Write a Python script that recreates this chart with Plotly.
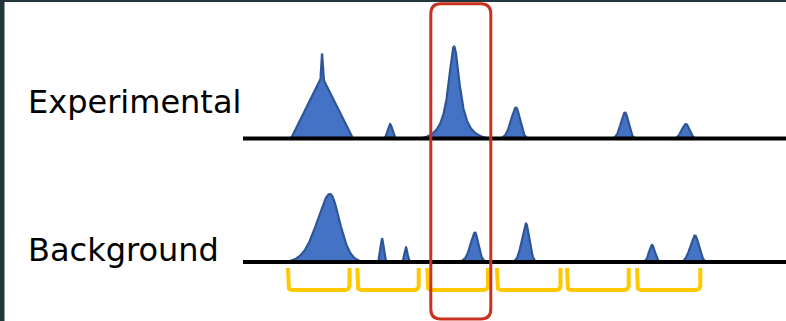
import numpy as np
import plotly.graph_objects as go

# ---------------- data ----------------
# Experimental track peaks: position, height, left/right half-width, Lorentzian fraction, profile kind
EXP_CENTER = [322, 322, 390, 454, 516, 625, 686]
EXP_HEIGHT = [62, 23, 14.5, 92, 31, 26, 14.5]
EXP_HW_LEFT = [31, 0.8, 2.7, 6.8, 6.0, 5.0, 5.0]
EXP_HW_RIGHT = [31, 0.8, 2.7, 7.0, 4.7, 4.2, 4.2]
EXP_ETA = [0, 0, 0, 1.0, 0.3, 0.2, 0.1]
EXP_KIND = ["tri", "pv", "pv", "pv", "pv", "pv", "pv"]

# Background track peaks
BG_CENTER = [330, 382, 406, 475, 526, 652, 695]
BG_HEIGHT = [68, 23.5, 14.5, 29.5, 38.5, 17, 26.5]
BG_HW_LEFT = [15.7, 2.0, 1.8, 5.5, 5.0, 3.5, 5.7]
BG_HW_RIGHT = [11.7, 2.0, 1.8, 4.0, 4.0, 3.5, 4.7]
BG_ETA = [0.35, 0, 0, 0.45, 0.3, 0.2, 0.2]
BG_KIND = ["pv"] * 7

# windows (yellow brackets) and highlighted region (red box)
WINDOW_START = [288, 357.3, 427.3, 497, 567, 637]
WINDOW_END = [349.5, 418.7, 488, 560.5, 628.7, 700.3]
HIGHLIGHT_START = 430.8
HIGHLIGHT_END = 490.8

TRACK_LABELS = ["Experimental", "Background"]

# ---------------- layout constants ----------------
W, H = 786, 321
TRACK_BASE = [182.5, 59]          # baseline level of each track
TRACK_X0, TRACK_X1 = 243, 786
CUT = 0.04
BLUE_FILL = "#4472C4"
BLUE_LINE = "#2F5597"
YELLOW = "#FFC800"
RED = "#C8321E"
FRAME = "#22343C"


def profile(xg, c, h, wl, wr, eta, kind):
    d = xg - c
    w = np.where(d < 0, wl, wr)
    u = d / w
    if kind == "tri":
        f = np.clip(1 - np.abs(u), 0, None)
    else:
        f = (1 - eta) * np.exp(-np.log(2) * u ** 2) + eta / (1 + u ** 2)
        f = np.clip((f - CUT) / (1 - CUT), 0, None)
    return h * f


def track_trace(base, centers, heights, wl, wr, eta, kind):
    xg = np.arange(TRACK_X0, TRACK_X1 + 0.001, 0.2)
    sig = np.zeros_like(xg)
    for i in range(len(centers)):
        sig += profile(xg, centers[i], heights[i], wl[i], wr[i], eta[i], kind[i])
    pos = sig > 1e-6
    xs, ys = [], []
    i = 0
    n = len(xg)
    while i < n:
        if pos[i]:
            j = i
            while j + 1 < n and pos[j + 1]:
                j += 1
            a, b = max(i - 1, 0), min(j + 1, n - 1)
            xs += list(xg[a:b + 1]) + [None]
            ys += list(base + sig[a:b + 1]) + [None]
            i = j + 1
        else:
            i += 1
    return go.Scatter(x=xs, y=ys, mode="lines", fill="toself",
                      fillcolor=BLUE_FILL, line=dict(color=BLUE_LINE, width=2.2),
                      hoverinfo="skip", showlegend=False)


fig = go.Figure()
fig.add_trace(track_trace(TRACK_BASE[0], EXP_CENTER, EXP_HEIGHT, EXP_HW_LEFT,
                          EXP_HW_RIGHT, EXP_ETA, EXP_KIND))
fig.add_trace(track_trace(TRACK_BASE[1], BG_CENTER, BG_HEIGHT, BG_HW_LEFT,
                          BG_HW_RIGHT, BG_ETA, BG_KIND))

# baselines
for b in TRACK_BASE:
    fig.add_trace(go.Scatter(x=[TRACK_X0, TRACK_X1], y=[b, b], mode="lines",
                             line=dict(color="black", width=4),
                             hoverinfo="skip", showlegend=False))

# brackets
BR_TOP, BR_BOT, BR_R = 53, 31, 4
bx, by = [], []
ang = np.linspace(0, np.pi / 2, 8)
for x0, x1 in zip(WINDOW_START, WINDOW_END):
    pts_x = [x0]
    pts_y = [BR_TOP]
    pts_x += list(x0 + BR_R - BR_R * np.cos(ang))
    pts_y += list(BR_BOT + BR_R - BR_R * np.sin(ang))
    pts_x += list(x1 - BR_R + BR_R * np.sin(ang))
    pts_y += list(BR_BOT + BR_R * (1 - np.cos(ang)))
    pts_x += [x1]
    pts_y += [BR_TOP]
    bx += pts_x + [None]
    by += pts_y + [None]
fig.add_trace(go.Scatter(x=bx, y=by, mode="lines",
                         line=dict(color=YELLOW, width=4),
                         hoverinfo="skip", showlegend=False))

# red highlight box (rounded)
RB_TOP, RB_BOT, RB_R = 317.3, 2, 10
x0, x1 = HIGHLIGHT_START, HIGHLIGHT_END
path = (f"M {x0},{RB_TOP - RB_R} L {x0},{RB_BOT + RB_R} Q {x0},{RB_BOT} {x0 + RB_R},{RB_BOT} "
        f"L {x1 - RB_R},{RB_BOT} Q {x1},{RB_BOT} {x1},{RB_BOT + RB_R} "
        f"L {x1},{RB_TOP - RB_R} Q {x1},{RB_TOP} {x1 - RB_R},{RB_TOP} "
        f"L {x0 + RB_R},{RB_TOP} Q {x0},{RB_TOP} {x0},{RB_TOP - RB_R} Z")
fig.add_shape(type="path", path=path, xref="x", yref="y",
              line=dict(color=RED, width=3), fillcolor="rgba(0,0,0,0)", layer="above")

# dark frame edges
fig.add_shape(type="rect", xref="x", yref="y", x0=0, x1=4.5, y0=0, y1=H,
              fillcolor=FRAME, line=dict(width=0), layer="above")
fig.add_shape(type="rect", xref="x", yref="y", x0=0, x1=W, y0=H - 2, y1=H,
              fillcolor=FRAME, line=dict(width=0), layer="above")

# labels
for lab, yy in zip(TRACK_LABELS, [219, 71]):
    fig.add_annotation(text=lab, x=26, y=yy, xref="x", yref="y",
                       xanchor="left", yanchor="middle", showarrow=False,
                       font=dict(family="DejaVu Sans", size=32, color="black"))

fig.update_layout(width=W, height=H, margin=dict(l=0, r=0, t=0, b=0),
                  paper_bgcolor="white", plot_bgcolor="white",
                  xaxis=dict(range=[0, W], visible=False, fixedrange=True),
                  yaxis=dict(range=[0, H], visible=False, fixedrange=True),
                  showlegend=False)

fig.write_html("out.html", config={"displayModeBar": False},
               post_script="document.body.style.margin='0';document.body.style.overflow='hidden';")
